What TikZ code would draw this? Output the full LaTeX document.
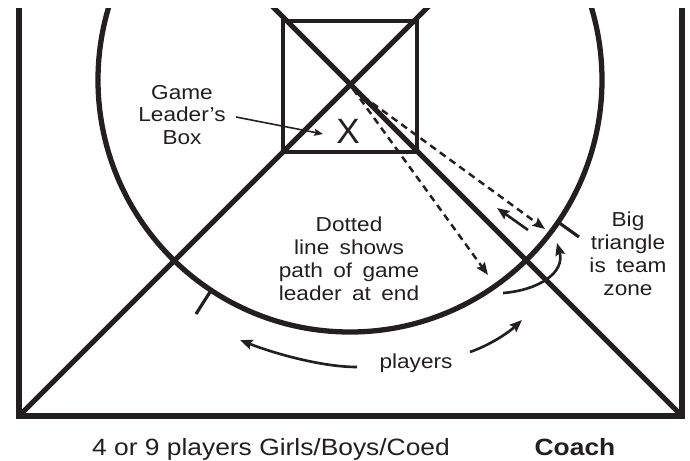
\documentclass[tikz,border=0pt]{standalone}
\usepackage{fontspec}
\setmainfont{Liberation Sans}[FakeStretch=1.12]
\newfontfamily\plainfont{Liberation Sans}
\newfontfamily\notefont{Liberation Sans}[FakeStretch=1.12, WordSpace=1.65]
\usetikzlibrary{arrows.meta}

\definecolor{ink}{HTML}{231F20}

\tikzset{
  court/.style={draw=ink, line width=3.5pt, line join=miter},
  diag/.style={draw=ink, line width=2.9pt},
  ring/.style={draw=ink, line width=3pt},
  boxline/.style={draw=ink, line width=1.9pt},
  tick/.style={draw=ink, line width=1.8pt},
  path/.style={draw=ink, line width=1.4pt, dash pattern=on 4pt off 2.8pt, -{Stealth[length=7pt,width=5.5pt,inset=1pt]}},
  move/.style={draw=ink, line width=1.5pt, -{Stealth[length=7pt,width=5.5pt,inset=1pt]}},
  pointer/.style={draw=ink, line width=0.9pt, -{Stealth[length=5pt,width=4pt,inset=0.8pt]}},
  note/.style={text=ink, inner sep=0pt, align=center, font=\notefont\fontsize{11.5}{13}\selectfont},
}

\begin{document}
\begin{tikzpicture}[x=0.02cm, y=-0.02cm]
\useasboundingbox (0,0) rectangle (690,460);

% court
\coordinate (bl) at (19,416);
\coordinate (br) at (682,416);
\coordinate (mid) at (350,80);
\begin{scope}
  \clip (0,8) rectangle (690,460);
  \draw[court] (19,-10) -- (bl) -- (br) -- (682,-10);
  \draw[diag] (bl) -- (439,-4);
  \draw[diag] (br) -- (262,-4);
  \draw[ring] (mid) circle (252);
\end{scope}

% game leader's box
\draw[boxline] (283,21) rectangle (417,152);
\node[text=ink, inner sep=0pt, font=\plainfont\fontsize{20}{20}\selectfont] (leader) at (348,131) {X};

% ticks on the circle
\draw[tick] (210,292) -- (196,314);
\draw[tick] (558,222) -- (579,237);

% dotted path of game leader
\coordinate (start) at (353,89);
\coordinate (endA) at (488,275);
\coordinate (endB) at (545,229);
\draw[path] (start) -- (endA);
\draw[path] (start) -- (endB);
\draw[move] (528,230) -- (497,208);
\draw[move] (503,293) .. controls (540,290) and (565,272) .. (557,243);

% players
\draw[move] (357,367) .. controls (320,367) and (270,352) .. (240,340);
\draw[move] (470,352) .. controls (490,345) and (508,333) .. (522,320);

% labels
\node[note] (boxlabel) at (182,115) {Game\\Leader’s\\Box};
\coordinate (boxtip) at (323,134);
\draw[pointer] (236,117) -- (boxtip);
\node[note] (dotted) at (349,259) {Dotted\\line shows\\path of game\\leader at end};
\node[note] (zone) at (628,254) {Big\\triangle\\is team\\zone};
\node[note, anchor=base] (players) at (416,368) {players};

\node[text=ink, inner sep=0pt, anchor=base, font=\fontsize{13.4}{15}\selectfont] (teams) at (271,455) {4 or 9 players Girls/Boys/Coed};
\node[text=ink, inner sep=0pt, anchor=base, font=\bfseries\fontsize{13.4}{15}\selectfont] (coach) at (575,455) {Coach};
\end{tikzpicture}
\end{document}
